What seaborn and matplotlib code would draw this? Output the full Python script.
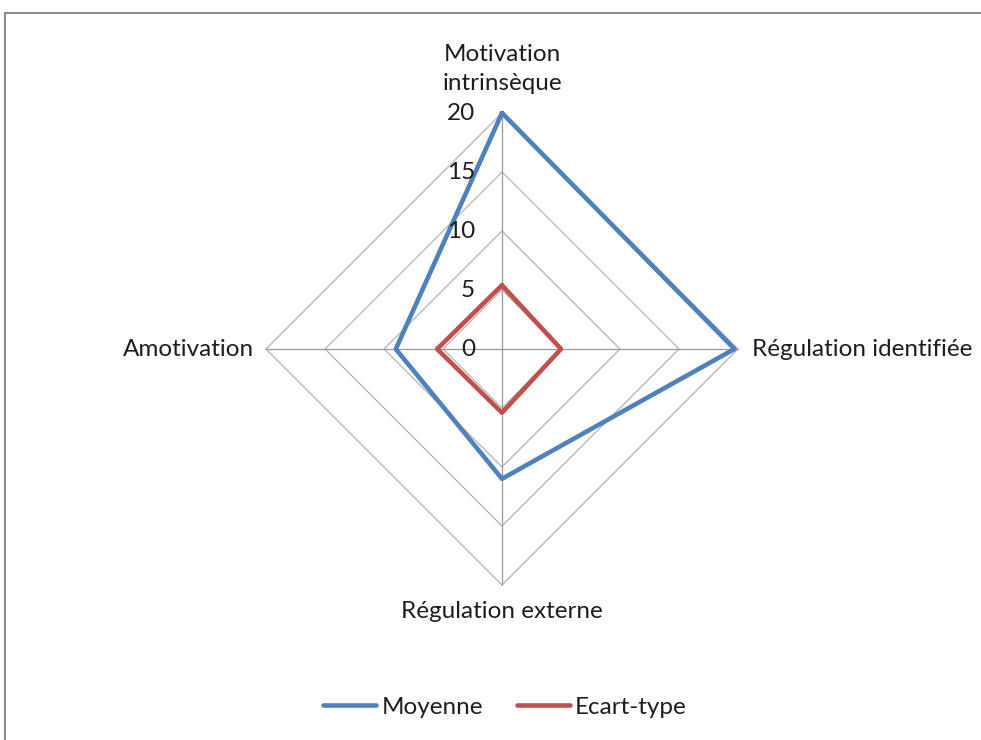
import numpy as np
import pandas as pd
import matplotlib
matplotlib.use("Agg")
import matplotlib.pyplot as plt
from matplotlib.patches import Rectangle
from matplotlib.lines import Line2D
import seaborn as sns

categories = ["Motivation\nintrinsèque", "Régulation identifiée", "Régulation externe", "Amotivation"]
moyenne = [20.0, 19.7, 11.0, 9.0]
ecart_type = [5.4, 5.0, 5.4, 5.5]
series_names = ["Moyenne", "Ecart-type"]
ticks = [0, 5, 10, 15, 20]
colors = ["#4F81BD", "#C0504D"]

sns.set_theme(style="white")
plt.rcParams["font.family"] = ["Lato", "DejaVu Sans"]

fig = plt.figure(figsize=(9.81, 7.40), dpi=100)
W, H = 981, 740
cx, cy, R = 502, 349, 236
half = 300
ax = fig.add_axes([(cx - half) / W, (H - cy - half) / H, 2 * half / W, 2 * half / H])
rmax = ticks[-1]
lim = rmax * half / R
ax.set_xlim(-lim, lim)
ax.set_ylim(-lim, lim)
ax.axis("off")
px = rmax / R  # data units per pixel

n = len(categories)
angles = [np.pi / 2 - 2 * np.pi * i / n for i in range(n)]

def xy(vals):
    xs = [v * np.cos(a) for v, a in zip(vals, angles)]
    ys = [v * np.sin(a) for v, a in zip(vals, angles)]
    return xs + xs[:1], ys + ys[:1]

grid_c = "#B4B4B4"
for t in ticks[1:]:
    gx, gy = xy([t] * n)
    ax.plot(gx, gy, color=grid_c, lw=0.9, zorder=1)
for a in angles:
    ax.plot([0, rmax * np.cos(a)], [0, rmax * np.sin(a)], color="#9A9A9A", lw=0.9, zorder=1)

rows = []
for name, vals in zip(series_names, [moyenne, ecart_type]):
    xs, ys = xy(vals)
    for k, (x, y) in enumerate(zip(xs, ys)):
        rows.append({"serie": name, "x": x, "y": y, "k": k})
df = pd.DataFrame(rows)
sns.lineplot(data=df, x="x", y="y", hue="serie", palette=colors, sort=False,
             estimator=None, lw=3.3, ax=ax, legend=False, zorder=3)

fs = 17.5
tc = "#1E1E1E"
for t in ticks:
    ax.text(-27 * px, t, str(t), ha="right", va="center", fontsize=fs, color=tc)

ax.text(0, rmax + 19 * px, categories[0], ha="center", va="bottom", fontsize=fs,
        linespacing=1.45, color=tc)
ax.text(rmax + 14 * px, 0, categories[1], ha="left", va="center", fontsize=fs, color=tc)
ax.text(0, -rmax - 16 * px, categories[2], ha="center", va="top", fontsize=fs, color=tc)
ax.text(-rmax - 12 * px, 0, categories[3], ha="right", va="center", fontsize=fs, color=tc)

handles = [Line2D([0], [0], color=c, lw=3.3, solid_capstyle="round") for c in colors]
fig.legend(handles, series_names, loc="center", bbox_to_anchor=(505 / W, 1 - 707 / H),
           ncol=2, frameon=False, fontsize=fs, handlelength=2.2, handletextpad=0.2,
           columnspacing=1.4, labelcolor=tc)

fig.patches.append(Rectangle((5 / W, -0.05), 1.1, 1 - 13 / H + 0.05, transform=fig.transFigure,
                             fill=False, edgecolor="#8C8C8C", lw=1.5))

fig.savefig("out.png", dpi=100)
